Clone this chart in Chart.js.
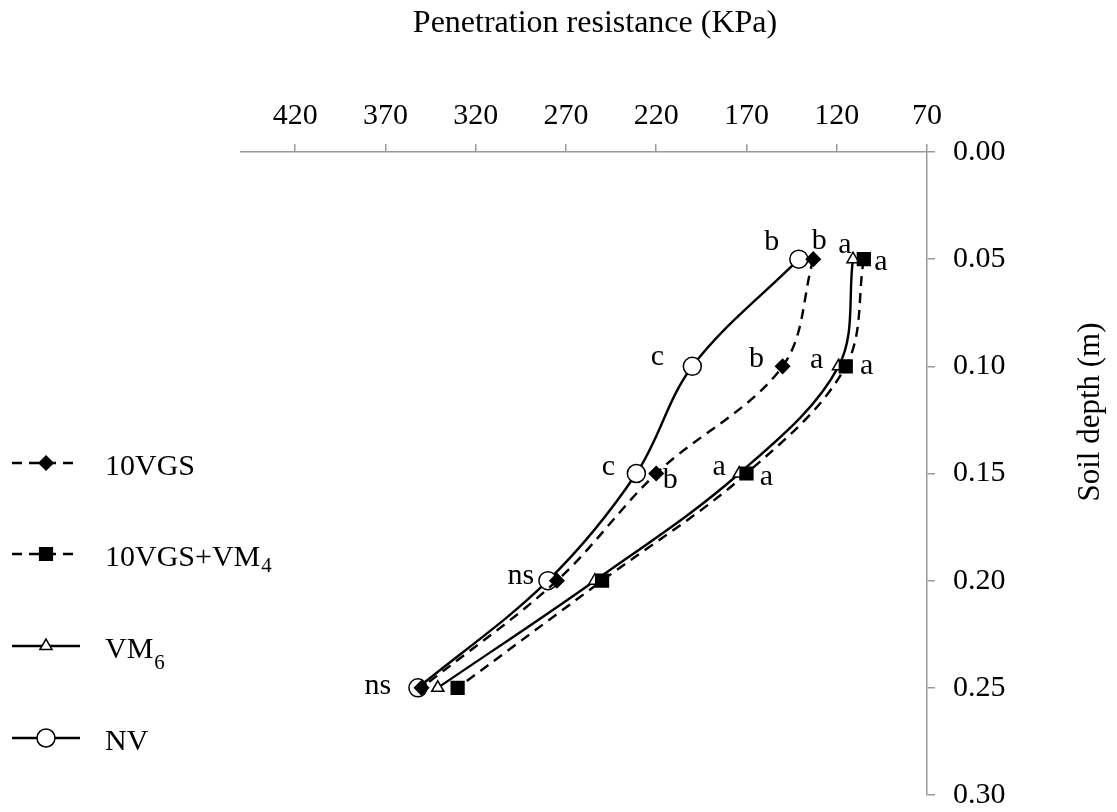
<!DOCTYPE html>
<html><head><meta charset="utf-8">
<script src="https://cdn.jsdelivr.net/npm/chart.js@4/dist/chart.umd.min.js"></script>
<style>html,body{margin:0;padding:0;background:#fff;} canvas{display:block;}</style>
</head><body>
<canvas id="c" width="1117" height="812"></canvas>
<script>
// ---------- data ----------
const depths = [0.05, 0.10, 0.15, 0.20, 0.25];
const vgs10 = [133, 150, 220, 275, 350];
const vgs10vm4 = [105, 115, 170, 250, 330];
const vm6 = [111, 119, 174, 254, 341];
const nv = [141, 200, 231, 280, 352];
const xTicks = [70, 120, 170, 220, 270, 320, 370, 420];
const xTickLabels = ['70', '120', '170', '220', '270', '320', '370', '420'];
const yTicks = [0, 0.05, 0.10, 0.15, 0.20, 0.25, 0.30];
const yTickLabels = ['0.00', '0.05', '0.10', '0.15', '0.20', '0.25', '0.30'];
const lettersVgs10 = ['b', 'b', 'b', '', ''];
const lettersVgs10vm4 = ['a', 'a', 'a', '', ''];
const lettersVm6 = ['a', 'a', 'a', '', ''];
const lettersNv = ['b', 'c', 'c', 'ns', 'ns'];
const legendMain = ['10VGS', '10VGS+VM', 'VM', 'NV'];
const legendSub = ['', '4', '6', ''];
const xTitle = 'Penetration resistance (KPa)';
const yTitle = 'Soil depth (m)';

// ---------- styling / placement ----------
const FONT = '"Liberation Serif", "Times New Roman", serif';
const AXIS_GRAY = '#9a9a9a';
const letterOffsets = [
  [[6, -10], [-26, 1], [14, 14]],
  [[17, 11], [21, 8], [20, 11]],
  [[-8, -6], [-22, 2], [-20, 1]],
  [[-27, -9], [-35, -1], [-28, 1], [-27, 3], [-40, 6]]
];
const allLetters = [lettersVgs10, lettersVgs10vm4, lettersVm6, lettersNv];
const pointStyles = [
  {pointStyle: 'rectRot', radius: 7, bg: '#000'},
  {pointStyle: 'rect', radius: 9, bg: '#000'},
  {pointStyle: 'triangle', radius: 7, bg: '#fff'},
  {pointStyle: 'circle', radius: 9, bg: '#fff'}
];
const dashes = [[10, 7], [10, 7], [], []];
const seriesValues = [vgs10, vgs10vm4, vm6, nv];

const datasets = seriesValues.map((vals, s) => ({
  label: legendMain[s] + legendSub[s],
  data: depths.map((d, i) => ({x: vals[i], y: d})),
  showLine: true,
  tension: 0.35,
  borderColor: '#000',
  borderWidth: 2.4,
  borderDash: dashes[s],
  pointStyle: pointStyles[s].pointStyle,
  pointRadius: pointStyles[s].radius,
  pointHoverRadius: pointStyles[s].radius,
  pointBackgroundColor: pointStyles[s].bg,
  pointBorderColor: '#000',
  pointBorderWidth: 1.5,
  fill: false
}));

const lettersPlugin = {
  id: 'letters',
  afterDatasetsDraw(chart) {
    const ctx = chart.ctx;
    ctx.save();
    ctx.font = '30px ' + FONT;
    ctx.fillStyle = '#000';
    ctx.textAlign = 'center';
    ctx.textBaseline = 'alphabetic';
    allLetters.forEach((arr, s) => {
      const meta = chart.getDatasetMeta(s);
      arr.forEach((t, i) => {
        if (!t) return;
        const el = meta.data[i];
        const off = letterOffsets[s][i];
        ctx.fillText(t, el.x + off[0], el.y + off[1]);
      });
    });
    ctx.restore();
  }
};

const decorPlugin = {
  id: 'decor',
  afterDraw(chart) {
    const ctx = chart.ctx;
    const ca = chart.chartArea;
    ctx.save();
    ctx.fillStyle = '#000';
    // x title
    ctx.font = '32px ' + FONT;
    ctx.textAlign = 'center';
    ctx.textBaseline = 'alphabetic';
    ctx.fillText(xTitle, (ca.left + ca.right) / 2 + 11, 32);
    // y title
    ctx.save();
    ctx.font = '31px ' + FONT;
    ctx.translate(1091, 412);
    ctx.rotate(-Math.PI / 2);
    ctx.textBaseline = 'middle';
    ctx.fillText(yTitle, 0, 0);
    ctx.restore();
    // legend
    const ys = [463, 554, 646, 738];
    for (let s = 0; s < 4; s++) {
      const y = ys[s];
      ctx.save();
      ctx.strokeStyle = '#000';
      ctx.lineWidth = 2.4;
      ctx.setLineDash(dashes[s]);
      ctx.beginPath();
      ctx.moveTo(12, y);
      ctx.lineTo(80, y);
      ctx.stroke();
      ctx.setLineDash([]);
      ctx.fillStyle = pointStyles[s].bg;
      ctx.strokeStyle = '#000';
      ctx.lineWidth = 1.5;
      Chart.helpers.drawPoint(ctx, {pointStyle: pointStyles[s].pointStyle, radius: pointStyles[s].radius, borderWidth: 1.5, rotation: 0}, 46, y);
      ctx.restore();
      ctx.font = '30px ' + FONT;
      ctx.textAlign = 'left';
      ctx.textBaseline = 'alphabetic';
      ctx.fillStyle = '#000';
      ctx.fillText(legendMain[s], 105, y + 12);
      if (legendSub[s]) {
        const w = ctx.measureText(legendMain[s]).width;
        ctx.font = '21px ' + FONT;
        ctx.fillText(legendSub[s], 105 + w + 1, y + (s === 2 ? 23 : 18));
      }
    }
    ctx.restore();
  }
};

new Chart(document.getElementById('c'), {
  type: 'scatter',
  data: {datasets},
  options: {
    responsive: false,
    animation: false,
    layout: {padding: {left: 241, right: 0, top: 0, bottom: 17}},
    plugins: {legend: {display: false}, tooltip: {enabled: false}, title: {display: false}},
    scales: {
      x: {
        type: 'linear', position: 'top', reverse: true, min: 70, max: 450,
        afterBuildTicks: (sc) => { sc.ticks = xTicks.map(v => ({value: v})); },
        afterFit: (sc) => { sc.height = 152; },
        ticks: {
          autoSkip: false, maxRotation: 0, padding: 10, color: '#000',
          font: {family: FONT, size: 30},
          callback: (v, i) => xTickLabels[i]
        },
        grid: {drawOnChartArea: false, drawTicks: true, tickLength: 8, color: AXIS_GRAY, lineWidth: 1.5},
        border: {display: true, color: AXIS_GRAY, width: 1.5}
      },
      y: {
        type: 'linear', position: 'right', reverse: true, min: 0, max: 0.30,
        afterBuildTicks: (sc) => { sc.ticks = yTicks.map(v => ({value: v})); },
        afterFit: (sc) => { sc.width = 190; sc.paddingTop = 0; sc.paddingBottom = 0; },
        ticks: {
          autoSkip: false, padding: 18, color: '#000',
          font: {family: FONT, size: 30},
          callback: (v, i) => yTickLabels[i]
        },
        grid: {drawOnChartArea: false, drawTicks: true, tickLength: 8, color: AXIS_GRAY, lineWidth: 1.5},
        border: {display: true, color: AXIS_GRAY, width: 1.5}
      }
    }
  },
  plugins: [lettersPlugin, decorPlugin]
});
</script>
</body></html>
